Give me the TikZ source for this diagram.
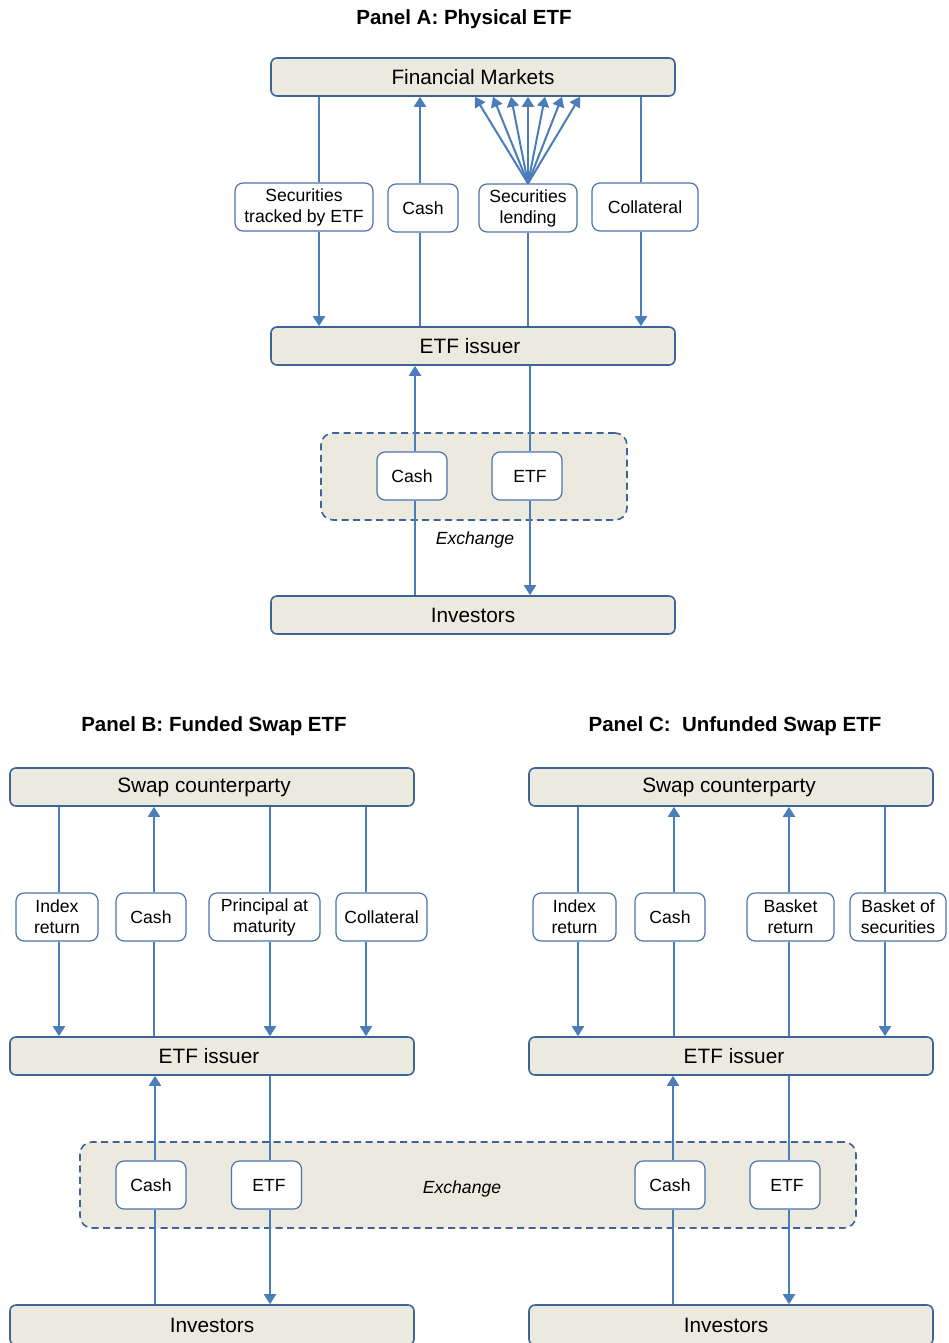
\documentclass[tikz,border=0pt]{standalone}
\usepackage{fontspec}
\setmainfont{Liberation Sans}
\usetikzlibrary{arrows.meta,calc}
\definecolor{beige}{HTML}{ECE9DF}
\definecolor{bdr}{HTML}{3E6395}
\definecolor{sbdr}{HTML}{4B74A8}
\definecolor{lnc}{HTML}{4A7DBA}
\newcommand\tshift[2]{\hspace*{#1}#2}
\begin{document}
\begin{tikzpicture}[x=1pt,y=-1pt,
  bigbox/.style={draw=bdr, fill=beige, line width=1.6pt, rounded corners=6pt,
    minimum width=404pt, minimum height=38pt, inner sep=0pt,
    font=\fontsize{20.8}{23}\selectfont},
  smallbox/.style={draw=sbdr, fill=white, line width=1.2pt, rounded corners=8pt,
    minimum height=48pt, inner sep=0pt, align=center,
    font=\fontsize{17.6}{21}\selectfont},
  exbox/.style={draw=bdr, fill=beige, line width=1.6pt, dash pattern=on 7pt off 4.5pt,
    rounded corners=12pt, inner sep=0pt},
  ttl/.style={font=\bfseries\fontsize{20.5}{23}\selectfont},
  exlab/.style={font=\itshape\fontsize{17.6}{20}\selectfont},
  ln/.style={draw=lnc, line width=2pt},
  arr/.style={ln, -{Triangle[width=12pt,length=10pt]}}]
\useasboundingbox (0,0) rectangle (948,1343);

% ---------------- Panel A ----------------
\node[ttl] (tA) at (464,19) {Panel A: Physical ETF};
\node[bigbox] (fm) at (473,77) {Financial Markets};
\node[smallbox, minimum width=138pt] (sti) at (304,207) {Securities\\tracked by ETF};
\node[smallbox, minimum width=70pt] (cashA) at (423,208) {Cash};
\node[smallbox, minimum width=98pt] (sl) at (528,208) {Securities\\lending};
\node[smallbox, minimum width=106pt] (col) at (645,207) {Collateral};
\node[bigbox] (etfA) at (473,346) {\tshift{-6pt}{ETF issuer}};
\node[exbox, minimum width=306pt, minimum height=87pt] (exA) at (474,476.5) {};
\node[smallbox, minimum width=70pt] (cashA2) at (412,476) {Cash};
\node[smallbox, minimum width=70pt] (etfA2) at (527,476) {\tshift{6pt}{ETF}};
\node[exlab] (exlA) at (475,540) {Exchange};
\node[bigbox] (invA) at (473,615) {Investors};

\draw[ln] ([xshift=15]sti.north) -- ([xshift=15]sti.north |- fm.south);
\draw[arr] ([xshift=15]sti.south) -- ([xshift=15]sti.south |- etfA.north);
\draw[ln] ([xshift=-3]cashA.south |- etfA.north) -- ([xshift=-3]cashA.south);
\draw[arr] ([xshift=-3]cashA.north) -- ([xshift=-3]cashA.north |- fm.south);
\draw[ln] (sl.south |- etfA.north) -- (sl.south);
\foreach \dx in {-53,-35,-17,0,17,34,52}
  \draw[arr] (sl.north) -- ([xshift=\dx]sl.north |- fm.south);
\draw[ln] ([xshift=-4]col.north) -- ([xshift=-4]col.north |- fm.south);
\draw[arr] ([xshift=-4]col.south) -- ([xshift=-4]col.south |- etfA.north);
\draw[ln] ([xshift=3]cashA2.south |- invA.north) -- ([xshift=3]cashA2.south);
\draw[arr] ([xshift=3]cashA2.north) -- ([xshift=3]cashA2.north |- etfA.south);
\draw[ln] ([xshift=3]etfA2.north |- etfA.south) -- ([xshift=3]etfA2.north);
\draw[arr] ([xshift=3]etfA2.south) -- ([xshift=3]etfA2.south |- invA.north);

% ---------------- Panel B ----------------
\node[ttl] (tB) at (214,726) {Panel B: Funded Swap ETF};
\node[bigbox] (scB) at (212,787) {\tshift{-16pt}{Swap counterparty}};
\node[smallbox, minimum width=82pt] (irB) at (57,917) {Index\\return};
\node[smallbox, minimum width=70pt] (cashB) at (151,917) {Cash};
\node[smallbox, minimum width=111pt] (pmB) at (264.5,917) {Principal at\\maturity};
\node[smallbox, minimum width=91pt] (colB) at (381.5,917) {Collateral};
\node[bigbox] (etfB) at (212,1056) {\tshift{-6pt}{ETF issuer}};

\draw[ln] ([xshift=2]irB.north) -- ([xshift=2]irB.north |- scB.south);
\draw[arr] ([xshift=2]irB.south) -- ([xshift=2]irB.south |- etfB.north);
\draw[ln] ([xshift=3]cashB.south |- etfB.north) -- ([xshift=3]cashB.south);
\draw[arr] ([xshift=3]cashB.north) -- ([xshift=3]cashB.north |- scB.south);
\draw[ln] ([xshift=5.5]pmB.north) -- ([xshift=5.5]pmB.north |- scB.south);
\draw[arr] ([xshift=5.5]pmB.south) -- ([xshift=5.5]pmB.south |- etfB.north);
\draw[ln] ([xshift=-15.5]colB.north) -- ([xshift=-15.5]colB.north |- scB.south);
\draw[arr] ([xshift=-15.5]colB.south) -- ([xshift=-15.5]colB.south |- etfB.north);

% ---------------- Panel C ----------------
\node[ttl] (tC) at (735,726) {Panel C:\ \ Unfunded Swap ETF};
\node[bigbox] (scC) at (731,787) {\tshift{-4pt}{Swap counterparty}};
\node[smallbox, minimum width=83pt] (irC) at (574.5,917) {Index\\return};
\node[smallbox, minimum width=70pt] (cashC) at (670,917) {Cash};
\node[smallbox, minimum width=87pt] (brC) at (790.5,917) {Basket\\return};
\node[smallbox, minimum width=96pt] (bsC) at (898,917) {Basket of\\securities};
\node[bigbox] (etfC) at (731,1056) {\tshift{6pt}{ETF issuer}};

\draw[ln] ([xshift=3.5]irC.north) -- ([xshift=3.5]irC.north |- scC.south);
\draw[arr] ([xshift=3.5]irC.south) -- ([xshift=3.5]irC.south |- etfC.north);
\draw[ln] ([xshift=4]cashC.south |- etfC.north) -- ([xshift=4]cashC.south);
\draw[arr] ([xshift=4]cashC.north) -- ([xshift=4]cashC.north |- scC.south);
\draw[ln] ([xshift=-1.5]brC.south |- etfC.north) -- ([xshift=-1.5]brC.south);
\draw[arr] ([xshift=-1.5]brC.north) -- ([xshift=-1.5]brC.north |- scC.south);
\draw[ln] ([xshift=-13]bsC.north) -- ([xshift=-13]bsC.north |- scC.south);
\draw[arr] ([xshift=-13]bsC.south) -- ([xshift=-13]bsC.south |- etfC.north);

% ---------------- Shared exchange ----------------
\node[exbox, minimum width=776pt, minimum height=86pt] (exBC) at (468,1185) {};
\node[smallbox, minimum width=70pt] (cashB2) at (151,1185) {Cash};
\node[smallbox, minimum width=70pt] (etfB2) at (266.5,1185) {\tshift{5pt}{ETF}};
\node[smallbox, minimum width=70pt] (cashC2) at (670,1185) {Cash};
\node[smallbox, minimum width=70pt] (etfC2) at (785,1185) {\tshift{4pt}{ETF}};
\node[exlab] (exlBC) at (462,1189) {Exchange};
\node[bigbox, minimum height=40pt] (invB) at (212,1325) {Investors};
\node[bigbox, minimum height=40pt] (invC) at (731,1325) {\tshift{-10pt}{Investors}};

\draw[ln] ([xshift=4]cashB2.south |- invB.north) -- ([xshift=4]cashB2.south);
\draw[arr] ([xshift=4]cashB2.north) -- ([xshift=4]cashB2.north |- etfB.south);
\draw[ln] ([xshift=3.5]etfB2.north |- etfB.south) -- ([xshift=3.5]etfB2.north);
\draw[arr] ([xshift=3.5]etfB2.south) -- ([xshift=3.5]etfB2.south |- invB.north);
\draw[ln] ([xshift=3]cashC2.south |- invC.north) -- ([xshift=3]cashC2.south);
\draw[arr] ([xshift=3]cashC2.north) -- ([xshift=3]cashC2.north |- etfC.south);
\draw[ln] ([xshift=4]etfC2.north |- etfC.south) -- ([xshift=4]etfC2.north);
\draw[arr] ([xshift=4]etfC2.south) -- ([xshift=4]etfC2.south |- invC.north);
\end{tikzpicture}
\end{document}
